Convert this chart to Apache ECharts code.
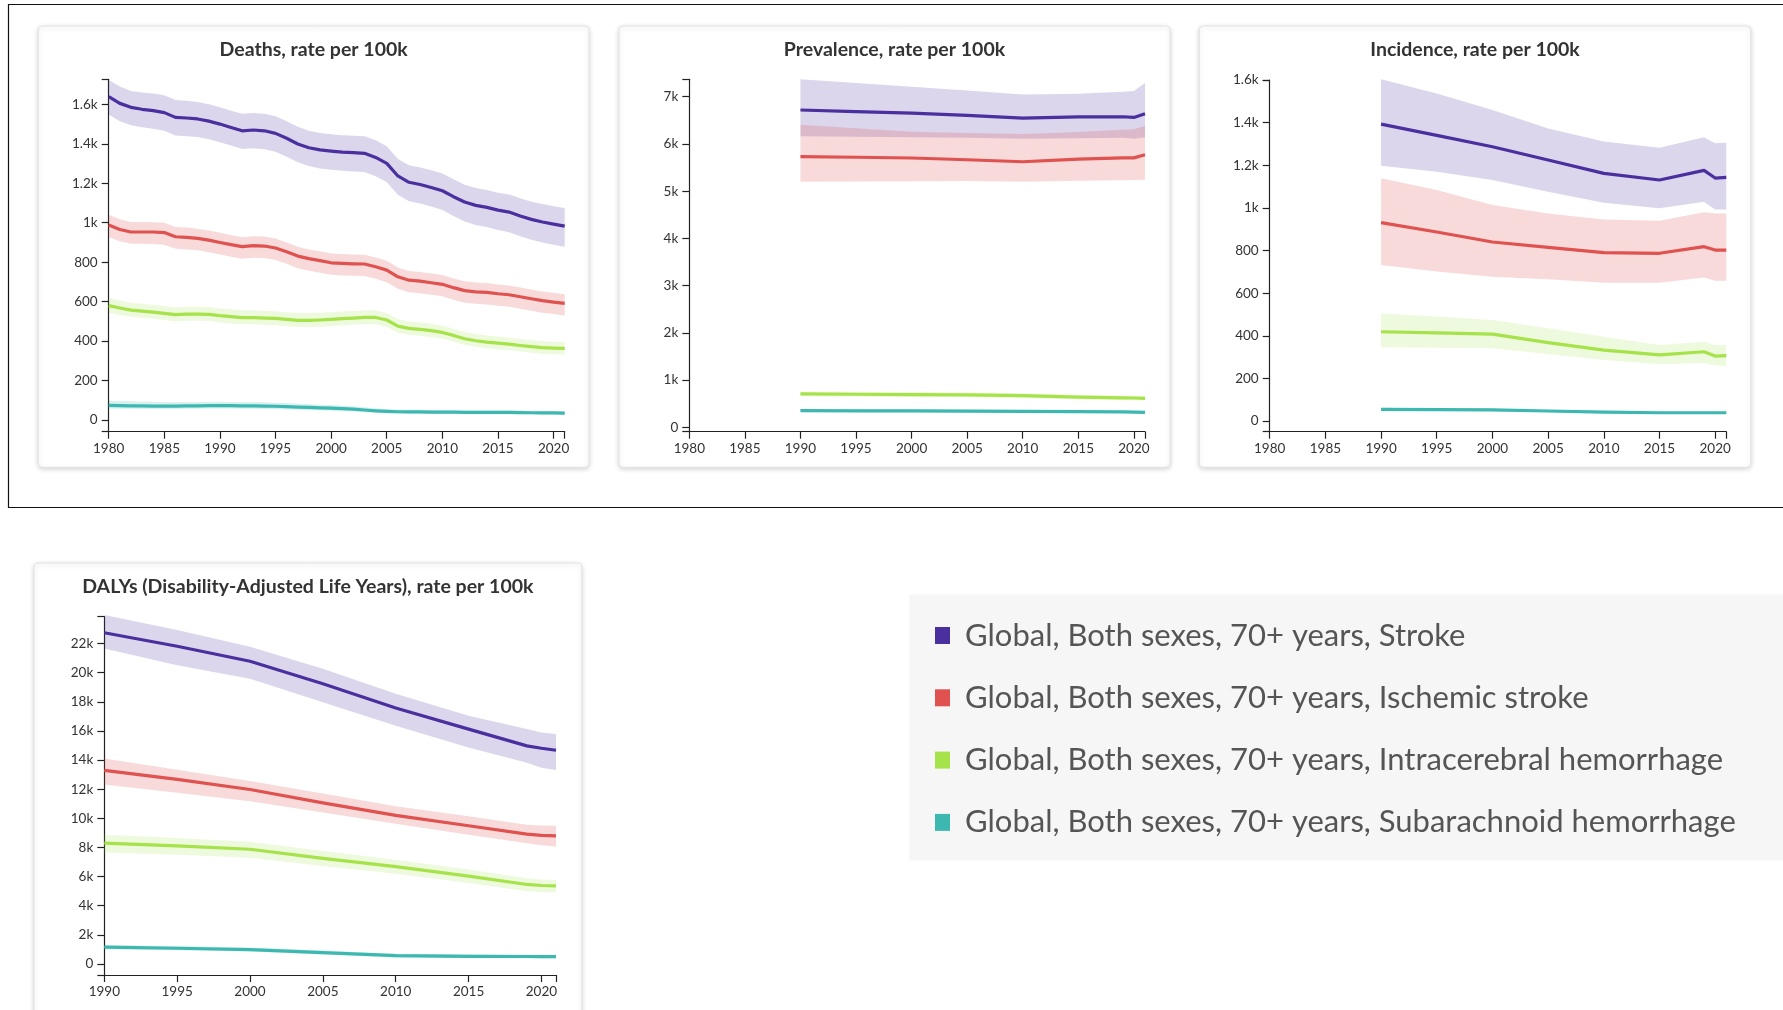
<!DOCTYPE html>
<html>
<head>
<meta charset="utf-8">
<script src="https://cdn.jsdelivr.net/npm/echarts@6/dist/echarts.min.js"></script>
<style>
  html, body { margin: 0; padding: 0; background: #ffffff; }
  #chart { width: 1783px; height: 1010px; }
</style>
</head>
<body>
<div id="chart"></div>
<script>
// ---- series names ----
const seriesNames = [
  'Global, Both sexes, 70+ years, Stroke',
  'Global, Both sexes, 70+ years, Ischemic stroke',
  'Global, Both sexes, 70+ years, Intracerebral hemorrhage',
  'Global, Both sexes, 70+ years, Subarachnoid hemorrhage'
];

// ---- Deaths, rate per 100k (annual, 1980-2021) ----
const deathYears = [1980,1981,1982,1983,1984,1985,1986,1987,1988,1989,1990,1991,1992,1993,1994,1995,1996,1997,1998,1999,2000,2001,2002,2003,2004,2005,2006,2007,2008,2009,2010,2011,2012,2013,2014,2015,2016,2017,2018,2019,2020,2021];
const deathsStroke   = [1639,1605,1585,1575,1568,1558,1534,1531,1526,1515,1500,1483,1466,1470,1466,1453,1428,1399,1380,1369,1363,1358,1355,1352,1331,1301,1237,1205,1194,1179,1162,1132,1105,1088,1078,1064,1054,1034,1017,1004,993,983];
const deathsStrokeHi = [1723,1690,1668,1660,1655,1646,1622,1618,1612,1600,1585,1568,1552,1556,1553,1540,1515,1486,1466,1455,1449,1444,1441,1438,1418,1388,1323,1291,1280,1266,1250,1220,1193,1176,1166,1152,1143,1124,1107,1095,1084,1075];
const deathsStrokeLo = [1548,1514,1494,1484,1477,1466,1442,1439,1434,1423,1408,1391,1374,1377,1373,1360,1335,1306,1287,1275,1269,1264,1260,1257,1236,1206,1142,1109,1098,1082,1065,1034,1006,989,978,963,952,931,914,900,888,878];
const deathsIsch     = [988,966,953,953,953,950,929,926,921,912,900,889,879,884,882,872,853,831,818,808,797,794,792,791,777,760,726,709,704,696,688,671,656,650,647,640,635,625,615,605,598,591];
const deathsIschHi   = [1040,1018,1004,1004,1003,1000,979,976,970,961,949,937,927,932,930,920,900,878,865,855,844,841,839,838,824,807,773,756,751,743,735,718,703,697,694,687,682,672,662,652,645,638];
const deathsIschLo   = [928,906,893,893,892,889,868,865,860,851,839,828,818,823,821,811,792,770,757,747,736,733,731,730,716,699,665,648,643,635,627,610,595,589,586,579,574,564,554,544,537,530];
const deathsIch      = [580,568,557,552,547,541,534,537,537,536,529,524,519,519,517,515,510,505,505,507,510,514,517,520,520,507,476,465,460,453,444,429,412,402,395,390,385,378,372,367,365,363];
const deathsIchHi    = [620,606,595,590,585,578,571,574,574,573,566,561,556,556,554,552,547,542,542,544,547,550,553,556,556,543,511,500,495,488,478,463,446,436,428,423,418,411,405,400,397,395];
const deathsIchLo    = [545,533,523,518,513,507,500,503,503,502,495,490,485,485,483,481,476,471,471,473,476,480,483,486,486,473,443,432,427,420,412,397,381,371,364,359,354,347,341,336,334,332];
const deathsSah      = [74,73,72,72,71,71,71,72,72,73,73,73,72,72,71,70,68,66,64,62,60,58,55,51,47,44,42,41,41,40,40,40,39,39,39,39,39,38,37,36,36,35];
const deathsSahHi    = [98,96,95,94,93,92,92,92,92,93,93,92,91,91,90,88,86,83,81,78,76,73,70,65,60,56,54,52,52,51,50,50,49,49,49,49,48,47,46,45,45,44];
const deathsSahLo    = [58,57,57,56,56,56,56,57,57,58,58,58,57,57,56,55,54,52,50,49,47,45,43,40,37,35,33,32,32,31,31,31,31,30,30,30,30,29,29,28,28,27];

// ---- Prevalence / Incidence / DALYs (1990-2021) ----
const gbdYears = [1990,1995,2000,2005,2010,2015,2019,2020,2021];

const prevStroke   = [6718,6683,6650,6606,6545,6572,6575,6560,6640];
const prevStrokeHi = [7368,7290,7212,7130,7045,7060,7105,7120,7290];
const prevStrokeLo = [6160,6150,6140,6130,6110,6120,6130,6110,6140];
const prevIsch     = [5730,5718,5702,5665,5622,5680,5705,5705,5770];
const prevIschHi   = [6405,6330,6260,6230,6210,6250,6300,6310,6380];
const prevIschLo   = [5200,5205,5210,5215,5200,5220,5230,5235,5240];
const prevIch      = [706,700,692,685,670,640,625,620,614];
const prevIchHi    = [760,754,746,738,722,690,675,670,664];
const prevIchLo    = [655,649,641,634,620,592,577,572,566];
const prevSah      = [353,350,347,343,338,332,325,322,318];
const prevSahHi    = [385,382,378,374,369,362,355,352,348];
const prevSahLo    = [325,322,318,314,310,304,298,295,292];

const incStroke   = [1393,1340,1287,1225,1162,1131,1176,1140,1143];
const incStrokeHi = [1603,1537,1459,1373,1311,1282,1331,1303,1306];
const incStrokeLo = [1198,1170,1131,1076,1024,998,1029,993,993];
const incIsch     = [931,887,840,815,790,787,818,802,802];
const incIschHi   = [1139,1084,1013,974,946,940,979,974,974];
const incIschLo   = [732,701,677,665,649,649,674,658,658];
const incIch      = [419,414,408,368,333,310,325,305,307];
const incIchHi    = [505,490,474,435,396,357,372,357,357];
const incIchLo    = [346,344,341,314,286,267,272,260,258];
const incSah      = [55,54,52,47,42,39,39,39,39];
const incSahHi    = [62,60,58,53,48,45,45,45,45];
const incSahLo    = [48,47,46,41,37,34,34,34,34];

const dalyStroke   = [22737,21815,20778,19235,17576,16125,14973,14812,14674];
const dalyStrokeHi = [23958,22921,21769,20272,18544,17047,16125,15895,15780];
const dalyStrokeLo = [21654,20502,19581,17968,16356,14858,13822,13476,13315];
const dalyIsch     = [13292,12670,11979,11057,10205,9491,8915,8823,8800];
const dalyIschHi   = [14098,13330,12555,11700,10827,10136,9560,9500,9491];
const dalyIschLo   = [12324,11750,11172,10400,9629,8869,8293,8150,8062];
const dalyIch      = [8293,8109,7878,7256,6681,6036,5460,5390,5367];
const dalyIchHi    = [8869,8650,8400,7750,7150,6480,5880,5800,5759];
const dalyIchLo    = [7648,7500,7300,6720,6200,5560,4990,4930,4907];
const dalySah      = [1152,1080,991,783,576,530,515,510,507];
const dalySahHi    = [1300,1230,1140,930,710,670,640,635,630];
const dalySahLo    = [1010,940,850,650,450,410,390,385,380];

// ---- tick values ----
const yearLabels1980 = [1980,1985,1990,1995,2000,2005,2010,2015,2020];
const yearLabels1990 = [1990,1995,2000,2005,2010,2015,2020];
const deathTicks = [0,200,400,600,800,1000,1200,1400,1600];
const prevTicks  = [0,1000,2000,3000,4000,5000,6000,7000];
const incTicks   = [0,200,400,600,800,1000,1200,1400,1600];
const dalyTicks  = [0,2000,4000,6000,8000,10000,12000,14000,16000,18000,20000,22000];

// ---- styling ----
const lineColors = ['#4a2f9e', '#e0524f', '#a6e24a', '#3db8b0'];
const bandColors = ['rgba(75,50,160,0.20)', 'rgba(224,80,80,0.21)', 'rgba(160,225,70,0.18)', 'rgba(60,185,180,0.20)'];
const FONT = 'Lato, "Open Sans", sans-serif';
const AX = '#222';

// panel geometry: card box, plot grid, axis ranges
const panels = [
  { title: 'Deaths, rate per 100k', card: [38.3, 26, 550.7, 441.3],
    grid: { left: 108.7, top: 79.3, width: 456, height: 352.4 },
    xmin: 1980, xLabels: yearLabels1980, ymin: -59, ymax: 1727, yLabels: deathTicks,
    years: deathYears,
    data: [[deathsStroke, deathsStrokeHi, deathsStrokeLo], [deathsIsch, deathsIschHi, deathsIschLo],
           [deathsIch, deathsIchHi, deathsIchLo], [deathsSah, deathsSahHi, deathsSahLo]] },
  { title: 'Prevalence, rate per 100k', card: [619, 26, 551, 441.3],
    grid: { left: 689.3, top: 79.3, width: 455.7, height: 352.4 },
    xmin: 1980, xLabels: yearLabels1980, ymin: -93, ymax: 7368, yLabels: prevTicks,
    years: gbdYears,
    data: [[prevStroke, prevStrokeHi, prevStrokeLo], [prevIsch, prevIschHi, prevIschLo],
           [prevIch, prevIchHi, prevIchLo], [prevSah, prevSahHi, prevSahLo]] },
  { title: 'Incidence, rate per 100k', card: [1199.3, 26, 551.4, 441.3],
    grid: { left: 1269.7, top: 80, width: 456.6, height: 351.7 },
    xmin: 1980, xLabels: yearLabels1980, ymin: -50, ymax: 1600, yLabels: incTicks,
    years: gbdYears,
    data: [[incStroke, incStrokeHi, incStrokeLo], [incIsch, incIschHi, incIschLo],
           [incIch, incIchHi, incIchLo], [incSah, incSahHi, incSahLo]] },
  { title: 'DALYs (Disability-Adjusted Life Years), rate per 100k', card: [34, 563, 547.7, 470],
    grid: { left: 104.3, top: 616.7, width: 451.7, height: 358.3 },
    xmin: 1990, xLabels: yearLabels1990, ymin: -755, ymax: 23840, yLabels: dalyTicks,
    years: gbdYears,
    data: [[dalyStroke, dalyStrokeHi, dalyStrokeLo], [dalyIsch, dalyIschHi, dalyIschLo],
           [dalyIch, dalyIchHi, dalyIchLo], [dalySah, dalySahHi, dalySahLo]] }
];

function kFormat(v) {
  return v >= 1000 ? (v / 1000) + 'k' : String(v);
}
function yearFormat(v) {
  return String(v);
}

const grids = [], xAxes = [], yAxes = [], series = [], graphics = [];

// outer frame around the top row
graphics.push({ type: 'rect', z: -20, shape: { x: 8.5, y: 4.5, width: 1800, height: 503 },
  style: { fill: 'none', stroke: '#111', lineWidth: 1.2 } });

panels.forEach(function (p, gi) {
  const c = p.card;
  graphics.push({ type: 'rect', z: -10, shape: { x: c[0], y: c[1], width: c[2], height: c[3], r: 4 },
    style: { fill: '#ffffff', stroke: '#e2e4e6', lineWidth: 1,
             shadowBlur: 5, shadowOffsetY: 1.5, shadowColor: 'rgba(0,0,0,0.16)' } });
  graphics.push({ type: 'text', z: 10, x: c[0] + c[2] / 2, y: c[1] + 24,
    style: { text: p.title, fill: '#333', font: 'bold 19.5px ' + FONT,
             textAlign: 'center', textVerticalAlign: 'middle' } });

  grids.push(Object.assign({ containLabel: false }, p.grid));

  xAxes.push({
    type: 'value', gridIndex: gi, min: p.xmin, max: 2021,
    axisLine: { show: true, onZero: false, lineStyle: { color: AX, width: 1.2 } },
    axisTick: { show: true, length: 7, customValues: p.xLabels.concat([2021]),
                lineStyle: { color: AX, width: 1.2 } },
    axisLabel: { customValues: p.xLabels, color: '#333', fontSize: 13.5, fontFamily: FONT,
                 margin: 10, formatter: yearFormat },
    splitLine: { show: false }
  });
  yAxes.push({
    type: 'value', gridIndex: gi, min: p.ymin, max: p.ymax,
    axisLine: { show: true, onZero: false, lineStyle: { color: AX, width: 1.2 } },
    axisTick: { show: true, length: 7, customValues: [p.ymin].concat(p.yLabels, [p.ymax]),
                lineStyle: { color: AX, width: 1.2 } },
    axisLabel: { customValues: p.yLabels, color: '#333', fontSize: 13.5, fontFamily: FONT,
                 margin: 11, formatter: kFormat },
    splitLine: { show: false }
  });

  // uncertainty bands drawn as polygons through the axis scales
  p.data.forEach(function (set, si) {
    const yrs = p.years, hi = set[1], lo = set[2];
    series.push({
      type: 'custom', name: seriesNames[si] + ' (interval)', xAxisIndex: gi, yAxisIndex: gi,
      silent: true, z: 1, clip: false,
      data: [[yrs[0], hi[0]]],
      renderItem: function (params, api) {
        const pts = [];
        for (let i = 0; i < yrs.length; i++) pts.push(api.coord([yrs[i], hi[i]]));
        for (let i = yrs.length - 1; i >= 0; i--) pts.push(api.coord([yrs[i], lo[i]]));
        return { type: 'polygon', shape: { points: pts }, style: { fill: bandColors[si] } };
      }
    });
  });
  // central estimate lines
  p.data.forEach(function (set, si) {
    series.push({
      type: 'line', name: seriesNames[si], xAxisIndex: gi, yAxisIndex: gi, z: 3,
      data: p.years.map(function (y, i) { return [y, set[0][i]]; }),
      showSymbol: false, symbol: 'none',
      lineStyle: { width: 3.2, color: lineColors[si], join: 'round' },
      itemStyle: { color: lineColors[si] }
    });
  });
});

const chart = echarts.init(document.getElementById('chart'), null, { renderer: 'canvas' });
chart.setOption({
  animation: false,
  backgroundColor: '#ffffff',
  textStyle: { fontFamily: FONT },
  grid: grids,
  xAxis: xAxes,
  yAxis: yAxes,
  graphic: { elements: graphics },
  legend: {
    data: seriesNames,
    orient: 'vertical',
    left: 910, top: 595,
    padding: [25, 260, 22, 25],
    backgroundColor: '#f6f6f6',
    shadowBlur: 3, shadowColor: 'rgba(0,0,0,0.06)',
    icon: 'rect',
    itemWidth: 15, itemHeight: 17,
    itemGap: 31.3,
    selectedMode: false,
    textStyle: { fontSize: 31, fontFamily: FONT, color: '#555', lineHeight: 31, padding: [0, 0, 0, 10] }
  },
  series: series
});
</script>
</body>
</html>
